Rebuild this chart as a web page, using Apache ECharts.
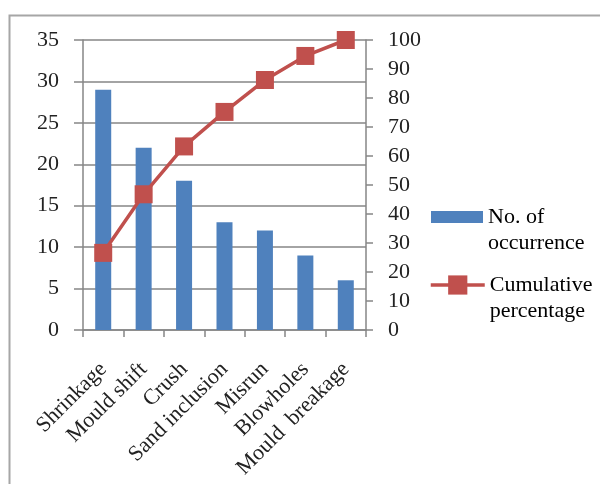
<!DOCTYPE html>
<html>
<head>
<meta charset="utf-8">
<script src="https://cdn.jsdelivr.net/npm/echarts@6/dist/echarts.min.js"></script>
<style>html,body{margin:0;padding:0;background:#fff}#c{width:600px;height:484px}</style>
</head>
<body>
<div id="c"></div>
<script>
var categories = ['Shrinkage', 'Mould shift', 'Crush', 'Sand inclusion', 'Misrun', 'Blowholes', 'Mould  breakage'];
var occurrences = [29, 22, 18, 13, 12, 9, 6];
var cumulativePct = [26.6, 46.8, 63.3, 75.2, 86.2, 94.5, 100];
var leftTicks = [0, 35, 5];
var rightTicks = [0, 100, 10];

var FONT = 'Liberation Serif';
var AXIS = '#868686';
var chart = echarts.init(document.getElementById('c'), null, {renderer: 'canvas'});
chart.setOption({
  backgroundColor: '#fff',
  animation: false,
  graphic: [{
    type: 'rect', left: 7, top: 13, silent: true,
    shape: {x: 0, y: 0, width: 700, height: 600},
    style: {fill: 'none', stroke: '#a6a6a6', lineWidth: 2}
  }],
  grid: {left: 83, right: 234, top: 40, bottom: 154, containLabel: false},
  legend: [{
    data: [{name: 'No. of occurrence', icon: 'rect'}], orient: 'vertical', left: 431, top: 178, padding: 0,
    itemWidth: 52, itemHeight: 12, itemGap: 0, selectedMode: false,
    formatter: function () { return ' \nNo. of\noccurrence'; },
    textStyle: {fontFamily: FONT, fontSize: 22, color: '#000', lineHeight: 26}
  }, {
    data: ['Cumulative percentage'], orient: 'vertical', left: 429, top: 246, padding: 0,
    itemWidth: 54, itemHeight: 24, itemGap: 0, selectedMode: false,
    lineStyle: {width: 3.5},
    formatter: function () { return ' \nCumulative\npercentage'; },
    textStyle: {fontFamily: FONT, fontSize: 22, color: '#000', lineHeight: 26}
  }],
  xAxis: {
    type: 'category', data: categories, boundaryGap: true,
    axisLine: {lineStyle: {color: AXIS, width: 1.5}},
    axisTick: {show: true, length: 7, lineStyle: {color: AXIS, width: 1.5}},
    axisLabel: {rotate: 45, margin: 36, interval: 0, fontFamily: FONT, fontSize: 22, color: '#222'}
  },
  yAxis: [{
    type: 'value', min: leftTicks[0], max: leftTicks[1], interval: leftTicks[2],
    axisLine: {show: true, lineStyle: {color: AXIS, width: 1.5}},
    axisTick: {show: true, length: 9, lineStyle: {color: AXIS, width: 1.5}},
    splitLine: {show: true, lineStyle: {color: AXIS, width: 1.5}},
    axisLabel: {margin: 24, fontFamily: FONT, fontSize: 22, color: '#222'}
  }, {
    type: 'value', min: rightTicks[0], max: rightTicks[1], interval: rightTicks[2], position: 'right',
    axisLine: {show: true, lineStyle: {color: AXIS, width: 1.5}},
    axisTick: {show: true, length: 7, lineStyle: {color: AXIS, width: 1.5}},
    splitLine: {show: false},
    axisLabel: {margin: 22, fontFamily: FONT, fontSize: 22, color: '#222'}
  }],
  series: [{
    name: 'No. of occurrence', type: 'bar', yAxisIndex: 0, data: occurrences,
    barWidth: 16, itemStyle: {color: '#4F81BD'}
  }, {
    name: 'Cumulative percentage', type: 'line', yAxisIndex: 1, data: cumulativePct,
    symbol: 'rect', symbolSize: 18, showAllSymbol: true,
    lineStyle: {color: '#C0504D', width: 3.5},
    itemStyle: {color: '#C0504D', borderWidth: 0}
  }]
});
</script>
</body>
</html>
